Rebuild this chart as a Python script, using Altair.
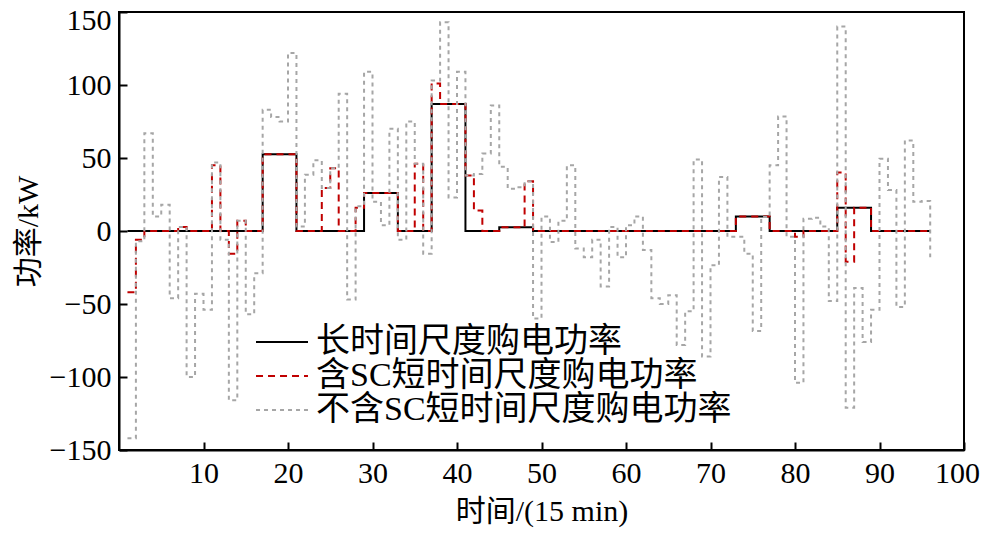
import altair as alt
import pandas as pd

t = list(range(1, 97))

long_term = [0]*16 + [52.5]*4 + [0]*8 + [26]*4 + [0]*4 + [87]*4 + [0]*4 + [2.5]*4 + [0]*24 + [10]*4 + [0]*8 + [16]*4 + [0]*8

with_sc = list(long_term)
red_dev = {1: -42, 2: -6, 7: 2.7, 11: 45, 13: -15.5, 14: 7, 24: 29.5, 25: 43, 28: 16,
           35: 46, 37: 101, 41: 38, 42: 14, 48: 34, 80: -4, 85: 40, 86: -21}
for k, v in red_dev.items():
    with_sc[k - 1] = v

without_sc = [
    -142, -7, 67, 10, 18, -46, 2.7, -100, -43, -54,
    47, -6, -116, 7, -57, -29, 83, 78, 75, 122,
    3, 38.6, 48.4, 29.5, 43, 94, -47, 17, 109, 20,
    4, 70, -6, 75, 46, -15.5, 103, 143, 23, 109,
    38, 39, 53, 86, 44, 29, 30, 34, -60, 10,
    -7.5, 7, 45, -12, -18, -6, -38, 2.7, -18, 4,
    10, -13, -46, -50, -44, -78, -55, 49, -86, -23.5,
    37, -4, -4, -15.5, -68.5, 9.6, 45, 78.5, -4, -104,
    8.4, 9, 3, -48, 140, -121, -39, -76, -54, 49.5,
    28, -52, 62, 20, 20.5, -18,
]

names = ["长时间尺度购电功率", "含SC短时间尺度购电功率", "不含SC短时间尺度购电功率"]
colors = ["#000000", "#c00000", "#a6a6a6"]
dashes = [[1, 0], [7, 5], [4, 4]]

frames = []
for name, vals in zip(names, [long_term, with_sc, without_sc]):
    frames.append(pd.DataFrame({"t": t, "p": vals, "s": name}))
df = pd.concat(frames, ignore_index=True)

FONT = "Liberation Serif, Noto Sans CJK SC"

xenc = alt.X("t:Q", scale=alt.Scale(domain=[0, 100], nice=False),
             axis=alt.Axis(values=list(range(10, 101, 10)), title="时间/(15 min)",
                           tickSize=alt.ExprRef(expr="-8"), labelPadding=16, titlePadding=8,
                           labelFlush=False,
                           labelOffset={"condition": {"test": "datum.value == 100", "value": -7}, "value": 0}))
yenc = alt.Y("p:Q", scale=alt.Scale(domain=[-150, 150], nice=False),
             axis=alt.Axis(values=list(range(-150, 151, 50)), title="功率/kW",
                           tickSize=alt.ExprRef(expr="-8"), labelPadding=16, titlePadding=6,
                           labelOffset={"condition": {"test": "datum.value == 150", "value": 8}, "value": 0}))
cenc = alt.Color("s:N", scale=alt.Scale(domain=names, range=colors), legend=alt.Legend(title=None))
denc = alt.StrokeDash("s:N", scale=alt.Scale(domain=names, range=dashes), legend=alt.Legend(title=None))

layers = []
for name in names:
    layers.append(
        alt.Chart(df).transform_filter(alt.datum.s == name)
        .mark_line(interpolate="step-after", strokeWidth=2)
        .encode(x=xenc, y=yenc, color=cenc, strokeDash=denc)
    )

chart = alt.layer(*layers).properties(
    width=845, height=438,
    autosize=alt.AutoSizeParams(type="none"),
    padding={"left": 111, "top": 4, "right": 18, "bottom": 78},
).configure_view(
    stroke="black", strokeWidth=2
).configure_axis(
    grid=False, domainColor="black", domainWidth=2, tickColor="black", tickWidth=2,
    labelFont=FONT, labelFontSize=30, labelColor="black",
    titleFont=FONT, titleFontSize=30, titleFontWeight="normal", titleColor="black",
).configure_legend(
    orient="none", legendX=146, legendY=313, padding=0, offset=0,
    symbolType="M-3,0H3", symbolSize=300, symbolStrokeWidth=2,
    labelFont=FONT, labelFontSize=34, labelColor="black", labelOffset=17,
    rowPadding=-1, labelLimit=700,
)

chart.save("out.html", embed_options={"renderer": "svg", "actions": False})
